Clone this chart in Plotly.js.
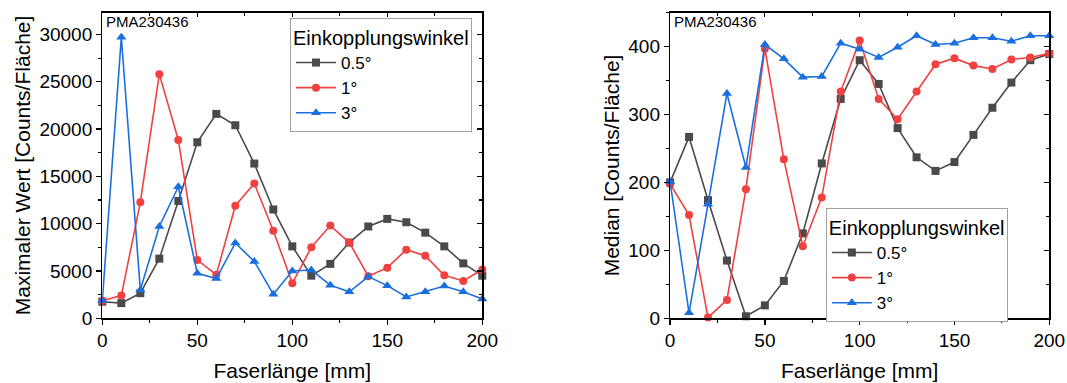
<!DOCTYPE html>
<html>
<head>
<meta charset="utf-8">
<script src="https://cdn.plot.ly/plotly-3.0.1.min.js"></script>
<style>html,body{margin:0;padding:0;background:#fff;}#chart{width:1067px;height:383px;}</style>
</head>
<body>
<div id="chart"></div>
<script>
// Faserlänge [mm]
const faserlaenge = [0,10,20,30,40,50,60,70,80,90,100,110,120,130,140,150,160,170,180,190,200];
const seriesNames = ["0.5°", "1°", "3°"];

// Maximaler Wert [Counts/Fläche]
const maxWert_05 = [1750,1600,2650,6300,12400,18600,21600,20400,16350,11500,7600,4500,5750,8000,9700,10500,10150,9050,7600,5800,4500];
const maxWert_1  = [1850,2400,12250,25800,18850,6150,4600,11900,14250,9250,3700,7500,9800,8000,4450,5350,7250,6600,4550,3950,5150];
const maxWert_3  = [1850,29700,3000,9700,13900,4750,4200,7950,6000,2550,5000,5100,3500,2800,4400,3450,2250,2800,3400,2800,2050];

// Median [Counts/Fläche]
const median_05 = [200,267,174,85,3,19,55,125,228,323,380,345,280,237,217,230,270,310,347,380,389];
const median_1  = [198,152,1,27,190,397,234,106,178,334,409,323,293,334,374,383,372,367,381,384,390];
const median_3  = [201,8,168,331,222,403,382,355,356,405,396,384,399,416,403,405,413,413,408,416,416];

const colors = ["#4a4a4a", "#f14040", "#1a6fdf"];
const symbols = ["square", "circle", "triangle-up"];
const FONT = "Liberation Sans, Arial, sans-serif";

function mk(y, i, xa, ya, leg) {
  return {
    x: faserlaenge, y: y, name: seriesNames[i], type: "scatter", mode: "lines+markers",
    xaxis: xa, yaxis: ya, legend: leg, cliponaxis: false,
    line: {color: colors[i], width: 1.6},
    marker: {color: colors[i], symbol: symbols[i], size: i === 2 ? 9 : 8}
  };
}
const dummy = (xa, ya) => ({x:[null], y:[null], xaxis: xa, yaxis: ya, showlegend:false, hoverinfo:"skip", mode:"markers"});

const traces = [
  mk(maxWert_05, 0, "x", "y", "legend"),
  mk(maxWert_1, 1, "x", "y", "legend"),
  mk(maxWert_3, 2, "x", "y", "legend"),
  mk(median_05, 0, "x2", "y2", "legend2"),
  mk(median_1, 1, "x2", "y2", "legend2"),
  mk(median_3, 2, "x2", "y2", "legend2"),
  dummy("x3", "y3"),
  dummy("x4", "y4")
];

const tickFont = {family: FONT, size: 19, color: "#000"};
const titleFont = {family: FONT, size: 21, color: "#000"};

function xAx(domain, anchor) {
  return {
    domain: domain, anchor: anchor, range: [0, 200], dtick: 50, tick0: 0,
    showline: true, linecolor: "#000", linewidth: 1.3, ticks: "outside", ticklen: 5, tickwidth: 1.3, tickcolor: "#000",
    minor: {ticks: "outside", ticklen: 3, dtick: 25, tickcolor: "#000", tickwidth: 1.1, showgrid: false},
    showgrid: false, zeroline: false, tickfont: tickFont, tickformat: "d",
    title: {text: "Faserlänge [mm]", font: titleFont, standoff: 13}
  };
}
function yAx(domain, anchor, range, dtick, title) {
  return {
    domain: domain, anchor: anchor, range: range, dtick: dtick, tick0: 0,
    showline: true, linecolor: "#000", linewidth: 1.3, ticks: "outside", ticklen: 5, tickwidth: 1.3, tickcolor: "#000",
    minor: {ticks: "outside", ticklen: 3, dtick: dtick / 2, tickcolor: "#000", tickwidth: 1.1, showgrid: false},
    showgrid: false, zeroline: false, tickfont: tickFont, tickformat: "d", exponentformat: "none",
    title: {text: title, font: titleFont, standoff: 3}
  };
}
function xTop(over, anchor) {
  return {
    overlaying: over, anchor: anchor, side: "top", range: [0, 200], dtick: 50, tick0: 0,
    showline: true, linecolor: "#000", linewidth: 1.3, ticks: "inside", ticklen: 4, tickwidth: 1.1, tickcolor: "#000",
    minor: {ticks: "inside", ticklen: 3, dtick: 25, tickcolor: "#000", tickwidth: 1.1, showgrid: false},
    showticklabels: false, showgrid: false, zeroline: false
  };
}
function yRight(over, anchor, range, dtick) {
  return {
    overlaying: over, anchor: anchor, side: "right", range: range, dtick: dtick, tick0: 0,
    showline: true, linecolor: "#000", linewidth: 1.3, ticks: "inside", ticklen: 5, tickwidth: 1.1, tickcolor: "#000",
    minor: {ticks: "inside", ticklen: 3, dtick: dtick / 2, tickcolor: "#000", tickwidth: 1.1, showgrid: false},
    showticklabels: false, showgrid: false, zeroline: false
  };
}

const yDom = [0.169, 0.967];
const legendCommon = {
  xanchor: "left", yanchor: "top", bgcolor: "#fff", bordercolor: "#a0a0a0", borderwidth: 1,
  font: {family: FONT, size: 17, color: "#000"}, tracegroupgap: 0, itemwidth: 40
};
const legTitle = {text: "Einkopplungswinkel", font: {family: FONT, size: 20, color: "#000"}};

const layout = {
  width: 1067, height: 383,
  margin: {l: 0, r: 0, t: 0, b: 0},
  paper_bgcolor: "#fff", plot_bgcolor: "#fff",
  font: {family: FONT, color: "#000"},
  xaxis: xAx([0.0959, 0.452], "y"),
  yaxis: yAx(yDom, "x", [0, 32300], 5000, "Maximaler Wert [Counts/Fläche]"),
  xaxis2: xAx([0.628, 0.9834], "y2"),
  yaxis2: yAx(yDom, "x2", [0, 450], 100, "Median [Counts/Fläche]"),
  xaxis3: xTop("x", "y"),
  yaxis3: yRight("y", "x", [0, 32300], 5000),
  xaxis4: xTop("x2", "y2"),
  yaxis4: yRight("y2", "x2", [0, 450], 100),
  legend: Object.assign({}, legendCommon, {x: 0.2718, y: 0.953, title: legTitle}),
  legend2: Object.assign({}, legendCommon, {x: 0.774, y: 0.457, title: legTitle}),
  annotations: [
    {text: "PMA230436", xref: "paper", yref: "paper", x: 104/1067, y: (383-22)/383, xanchor: "left", yanchor: "middle", showarrow: false, font: {family: FONT, size: 15, color: "#000"}},
    {text: "PMA230436", xref: "paper", yref: "paper", x: 672/1067, y: (383-22)/383, xanchor: "left", yanchor: "middle", showarrow: false, font: {family: FONT, size: 15, color: "#000"}}
  ],
  showlegend: true
};

Plotly.newPlot("chart", traces, layout, {displayModeBar: false, staticPlot: true});
</script>
</body>
</html>
